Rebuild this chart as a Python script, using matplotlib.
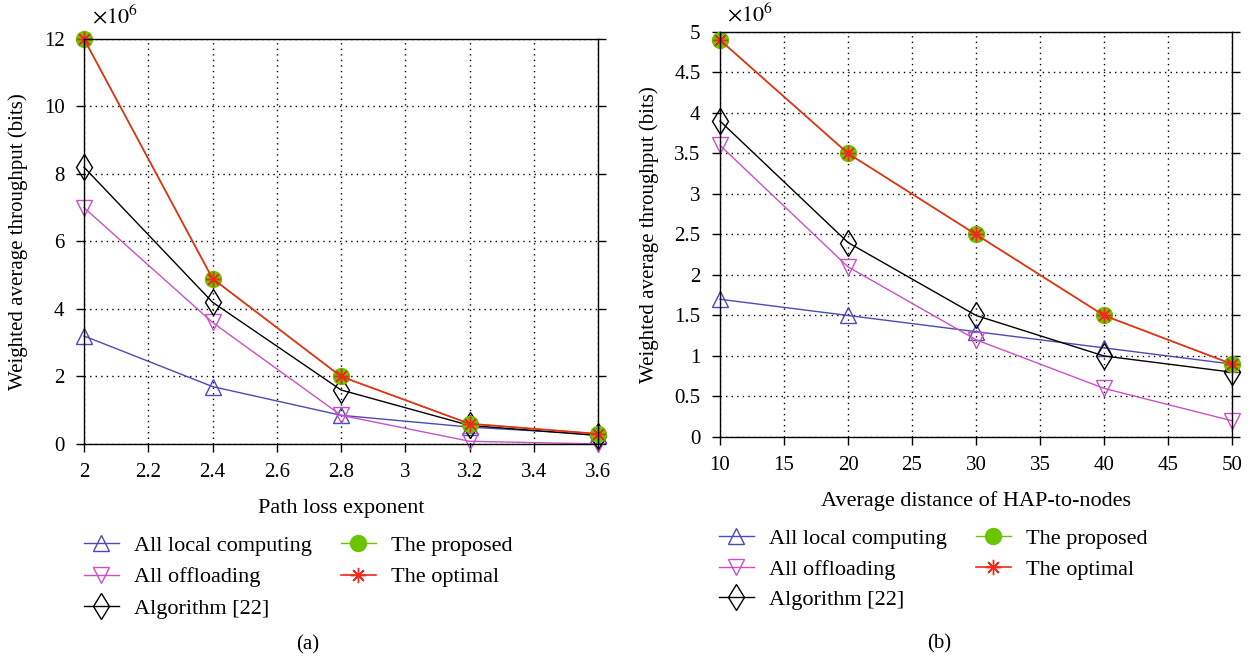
import numpy as np
import matplotlib
matplotlib.use("Agg")
import matplotlib.pyplot as plt

plt.rcParams['font.family'] = ['Liberation Serif', 'DejaVu Serif']
plt.rcParams['mathtext.fontset'] = 'stix'

# (a) path loss exponent
x_a = [2, 2.4, 2.8, 3.2, 3.6]
local_a = [3.2, 1.7, 0.85, 0.5, 0.28]
offload_a = [7.0, 3.6, 0.85, 0.08, 0.0]
alg_a = [8.2, 4.2, 1.6, 0.55, 0.25]
proposed_a = [12.0, 4.9, 2.0, 0.6, 0.3]
optimal_a = [12.0, 4.9, 2.0, 0.6, 0.3]

# (b) average distance
x_b = [10, 20, 30, 40, 50]
local_b = [1.7, 1.5, 1.3, 1.1, 0.9]
offload_b = [3.6, 2.1, 1.2, 0.6, 0.2]
alg_b = [3.9, 2.4, 1.5, 1.0, 0.8]
proposed_b = [4.9, 3.5, 2.5, 1.5, 0.9]
optimal_b = [4.9, 3.5, 2.5, 1.5, 0.9]

labels = ['All local computing', 'All offloading', 'Algorithm [22]',
          'The proposed', 'The optimal']
blue = '#4a4ab8'
magenta = '#cc4fc6'
green = '#6cc400'
red = '#ee2a1a'

fig = plt.figure(figsize=(12.54, 6.59), dpi=100)
ax1 = fig.add_axes([0.0670, 0.3263, 0.4099, 0.6146])
ax2 = fig.add_axes([0.5742, 0.3369, 0.4083, 0.6146])


def draw(ax, x, local, offload, alg, proposed, optimal):
    kw = dict(clip_on=False)
    ax.plot(x, local, color=blue, lw=1, marker='^', ms=11, mfc='none', mew=1, label=labels[0], **kw)
    ax.plot(x, offload, color=magenta, lw=1, marker='v', ms=11, mfc='none', mew=1, label=labels[1], **kw)
    ax.plot(x, alg, color='black', lw=1, marker='d', ms=13, mfc='none', mew=1, label=labels[2], **kw)
    ax.plot(x, proposed, color=green, lw=1, marker='o', ms=11.5, mfc=green, mec=green, label=labels[3], **kw)
    ax.plot(x, optimal, color=red, lw=1.2, marker=(8, 2, 0), ms=11, mew=1, label=labels[4], **kw)
    ax.grid(True, color='black', ls=(0, (1, 3)), lw=1)
    ax.tick_params(direction='out', right=True, labelsize=15, length=6, pad=8, width=1)
    for s in ax.spines.values():
        s.set_linewidth(1)


draw(ax1, x_a, local_a, offload_a, alg_a, proposed_a, optimal_a)
ax1.set_xlim(2, 3.6)
ax1.set_ylim(0, 12)
ax1.set_xticks(np.arange(2, 3.61, 0.2))
ax1.set_xticklabels(['2', '2.2', '2.4', '2.6', '2.8', '3', '3.2', '3.4', '3.6'])
ax1.set_yticks(range(0, 13, 2))
ax1.set_ylabel('Weighted average throughput (bits)', fontsize=15)
ax1.yaxis.set_label_coords(-0.109, 0.5)
ax1.set_xlabel('Path loss exponent', fontsize=16, labelpad=12)
fig.text(92 / 1254, 0.965, r'$\times10^6$', fontsize=16, ha='left', va='baseline')
ax1.legend(loc='upper left', bbox_to_anchor=(84 / 1254, 0.188), bbox_transform=fig.transFigure,
           ncol=2, frameon=False, fontsize=16, handlelength=1.57, handletextpad=0.68,
           columnspacing=1.3, labelspacing=0.5, borderpad=0, borderaxespad=0)
fig.text(308 / 1254, 0.021, '(a)', fontsize=15, ha='center', va='center')

draw(ax2, x_b, local_b, offload_b, alg_b, proposed_b, optimal_b)
ax2.set_xlim(10, 50)
ax2.set_ylim(0, 5)
ax2.set_xticks(range(10, 51, 5))
ax2.set_yticks(np.arange(0, 5.01, 0.5))
ax2.set_yticklabels(['0', '0.5', '1', '1.5', '2', '2.5', '3', '3.5', '4', '4.5', '5'])
ax2.set_ylabel('Weighted average throughput (bits)', fontsize=15)
ax2.yaxis.set_label_coords(-0.119, 0.5)
ax2.set_xlabel('Average distance of HAP-to-nodes', fontsize=16, labelpad=11)
fig.text(727 / 1254, 0.967, r'$\times10^6$', fontsize=16, ha='left', va='baseline')
ax2.legend(loc='upper left', bbox_to_anchor=(719 / 1254, 0.198), bbox_transform=fig.transFigure,
           ncol=2, frameon=False, fontsize=16, handlelength=1.57, handletextpad=0.68,
           columnspacing=1.3, labelspacing=0.45, borderpad=0, borderaxespad=0)
fig.text(939 / 1254, 0.023, '(b)', fontsize=15, ha='center', va='center')

fig.savefig('out.png', dpi=100)
